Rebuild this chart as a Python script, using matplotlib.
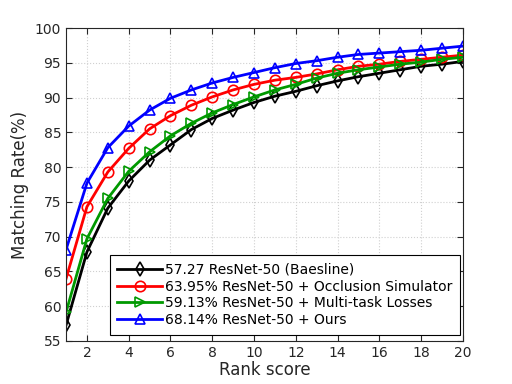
import matplotlib
matplotlib.use("Agg")
import matplotlib.pyplot as plt
import numpy as np

rank = list(range(1, 21))
baseline = [57.27, 67.8, 74.1, 78.0, 81.0, 83.2, 85.4, 87.0, 88.2, 89.3, 90.2, 90.9, 91.7, 92.4, 93.0, 93.5, 94.0, 94.5, 94.8, 95.2]
occlusion = [63.95, 74.3, 79.3, 82.7, 85.5, 87.4, 88.9, 90.1, 91.1, 91.9, 92.5, 92.9, 93.4, 94.0, 94.5, 94.8, 95.2, 95.5, 95.8, 96.1]
multitask = [59.13, 69.7, 75.5, 79.4, 82.2, 84.5, 86.3, 87.8, 89.0, 90.1, 91.1, 91.9, 92.8, 93.5, 94.0, 94.4, 94.8, 95.1, 95.5, 95.8]
ours = [68.14, 77.7, 82.8, 85.9, 88.2, 89.9, 91.1, 92.1, 92.9, 93.6, 94.3, 94.9, 95.3, 95.8, 96.2, 96.4, 96.6, 96.8, 97.1, 97.4]

labels = ["57.27 ResNet-50 (Baesline)",
          "63.95% ResNet-50 + Occlusion Simulator",
          "59.13% ResNet-50 + Multi-task Losses",
          "68.14% ResNet-50 + Ours"]
xticks = list(range(2, 21, 2))
yticks = list(range(55, 101, 5))

fig = plt.figure(figsize=(5.12, 3.84), dpi=100)
ax = fig.add_axes([0.129, 0.112, 0.775, 0.815])

styles = [("black", "d"), ("red", "o"), ((0, 0.6, 0), ">"), ("blue", "^")]
for data, lab, (c, m) in zip([baseline, occlusion, multitask, ours], labels, styles):
    ax.plot(rank, data, color=c, marker=m, markersize=7.5, markerfacecolor="none",
            markeredgecolor=c, markeredgewidth=1.2, linewidth=2, label=lab)

ax.set_xlim(1, 20)
ax.set_ylim(55, 100)
ax.set_xticks(xticks)
ax.set_yticks(yticks)
ax.tick_params(direction="in", top=True, right=True, labelsize=10, length=4, colors="#262626")
ax.grid(True, linestyle=":", color="#d0d0d0", linewidth=0.8)
ax.set_xlabel("Rank score", fontsize=12, color="#262626", labelpad=1)
ax.set_ylabel("Matching Rate(%)", fontsize=12, color="#262626")
for s in ax.spines.values():
    s.set_color("#262626")

leg = ax.legend(loc="lower right", fontsize=10, fancybox=False, edgecolor="black",
                framealpha=1, handlelength=3.2, handletextpad=0.2, labelspacing=0.2,
                borderpad=0.55, borderaxespad=0, bbox_to_anchor=(0.992, 0.02))
leg.get_frame().set_linewidth(0.8)

fig.savefig("out.png", dpi=100)
